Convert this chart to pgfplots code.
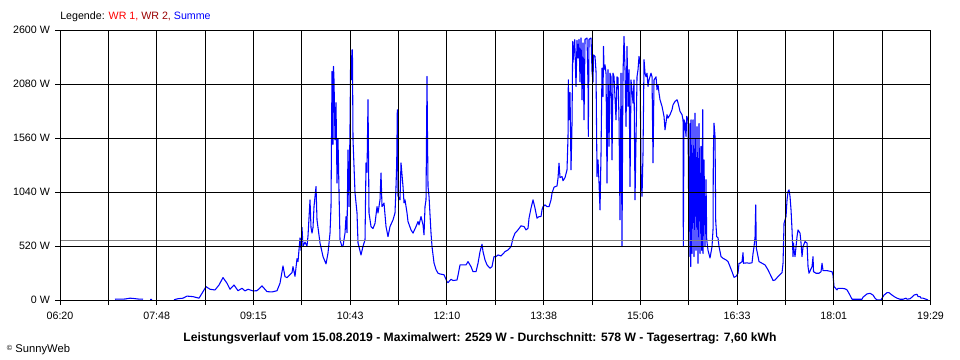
\documentclass[border=0pt]{standalone}
\usepackage{fontspec}
\setmainfont{Liberation Sans}
\usepackage{pgfplots}
\usepackage{pgfplotstable}
\pgfplotsset{compat=1.18}
\definecolor{wrone}{RGB}{255,0,0}
\definecolor{wrtwo}{RGB}{153,0,0}
\definecolor{summe}{RGB}{0,0,255}
\definecolor{avg}{RGB}{128,128,128}
% px = horizontal position (06:20 at 60, 19:29 at 930.5), W = power
\pgfplotstableread{
px W
115 10
125 12
130 20
133 18
138 12
143 10
144 nan
150 8
152 8
153 nan
174 5
178 15
183 20
187 40
193 35
199 20
202 67
206 131
210 106
215 99
219 147
223 218
227 164
230 106
234 147
238 92
242 115
245 90
248 106
253 90
257 92
262 138
267 83
272 80
277 92
280 164
283 330
285 227
287 218
292 266
293 324
295 230
297 400
298 372
300 600
301 480
302 700
303 520
305 560
307 520
308 620
310 966
311 700
312 646
313 700
314 901
316 1094
317 773
320 552
323 420
326 350
328 455
330 646
331 901
332 2201
333 1500
333.5 2250
334 2121
335 1544
336 1900
337 1128
338 1550
339 1046
340 581
342 516
343 520
345 646
346 805
347 650
348 1447
349 900
350 1672
350.7 2410
351.7 2121
352.4 2410
353 1544
355 1033
357 840
358 552
361 436
363 520
365 580
366 1322
367 1230
368 1929
369 840
371 709
373 690
375 740
377 901
378 840
380 966
381 1224
382 901
384 935
386 709
388 612
390 709
393 773
395 840
396 1094
396.7 1322
397.3 1833
398 1003
400 966
401 1322
403 1094
404 937
405 966
407 840
408 757
411 677
413 646
416 709
418 757
419 725
421 805
423 725
424 629
425 901
426 966
427 2153
427.4 1672
428 1094
429 1000
431 646
432 516
434 359
436 295
438 260
440 253
444 245
447 179
448 170
451 202
453 190
457 195
458 240
460 340
463 340
466 340
468 372
471 324
473 275
476 275
478 356
480 468
482 539
483 468
485 388
487 340
490 308
492 324
494 420
496 420
498 436
501 426
503 446
505 468
508 484
511 516
513 597
515 645
518 677
521 716
524 709
526 677
528 693
529 790
531 886
533 966
535 886
537 790
539 805
541 805
542 870
543 900
545 918
547 900
549 900
551 966
552 1030
554 1088
557 1100
558 1175
559 1319
560 1180
562 1190
563 1150
565 1180
567 1255
568 1576
568.3 2121
569 1736
570 2000
571 1255
572 1700
572.7 2490
573 2290
574.7 2507
576 2057
577 2500
578 2330
579 2510
580 2100
581 2523
582 1929
583 2475
584 1736
585 2510
587 2523
588 2057
588.3 1576
589 2510
591 2523
592 2200
593 2100
593.5 2360
595 2346
596 2200
597 1190
598 1350
599 1128
600 869
601 1415
602 2234
603 1960
603.5 2442
604 2218
605 2265
606 2185
607 1128
608 2218
609 1480
610 2185
611 2150
612 1350
613 2185
614 2150
616 1736
617 2150
618 2140
619 1736
620 773
621 2185
622 516
622.7 1800
623 2185
624 2538
625 2218
626 1672
627 2442
628 1865
629 2218
630 1094
631 2120
633 1897
634 2120
635 966
637 2150
638 2218
639 2346
640 2282
641 1225
642 1000
643 1415
644 2314
645 2185
646 2150
647 2185
648 2057
649 2120
651 2185
652 2150
653 1322
654 2120
656 2150
657 2025
658 2075
659 1993
660 1929
662 1865
663 1817
664 1768
665 1640
667 1785
668 1753
670 1785
672 1833
673 1880
675 1913
677 1929
678 1900
680 1817
682 1785
683 1736
683.3 516
684 1736
685 1700
686 1576
686.7 1770
688 1736
689 420
690 1700
690.7 324
691 1736
692 450
693 1736
694 420
695 1800
696 480
697 1670
698 356
699 1700
700 450
701 1480
701.7 480
702.7 1833
703 450
704 1350
705 516
706 1160
706.7 581
708 480
710 407
712 516
713 680
713.3 1380
714 1704
715 1576
715.7 760
716.7 612
718 600
719 516
721 420
723 404
726 388
728 372
730 324
732 275
734 221
736 230
738 260
739 356
740 356
742 372
743 458
743.5 356
747 360
749 356
752 360
753 450
754 515
755 610
755.7 918
756.3 500
757 470
759 372
762 356
765 340
768 292
772 212
773 190
775 195
778 228
782 266
783 356
784 741
786 805
787 966
788 1046
789 1062
790 998
791 870
792 677
793 420
793.5 550
794 484
795 420
797 613
798 677
800 645
801 550
802 420
803 516
805 565
807 550
808 324
809 260
812 324
813 420
813.5 275
816 260
819 260
821 275
822 356
823 285
827 285
832 275
833 240
834 131
837 100
838 115
842 115
845 110
847 100
849 66
852 10
856 10
862 10
863 30
867 61
870 67
873 50
875 20
877 3
881 3
882 20
884 50
887 73
889 73
892 50
895 30
897 20
900 10
903 10
906 20
907 10
910 15
912 30
914 50
917 58
918 35
920 35
921 20
923 20
926 10
928 3
}\summe
\begin{document}
\begin{tikzpicture}
\path[use as bounding box] (-45pt,-44.8pt) rectangle (675pt,225.2pt);
\begin{axis}[
  at={(0pt,0pt)}, anchor=south west,
  scale only axis, width=652.9pt, height=202.7pt,
  xmin=380, xmax=1169, ymin=0, ymax=2600,
  xtick={380,423.83,467.67,511.5,555.33,599.17,643,686.83,730.67,774.5,818.33,862.17,906,949.83,993.67,1037.5,1081.33,1125.17,1169},
  xticklabels={06:20,,07:48,,09:15,,10:43,,12:10,,13:38,,15:06,,16:33,,18:01,,19:29},
  ytick={0,520,1040,1560,2080,2600},
  yticklabels={0 W,520 W,1040 W,1560 W,2080 W,2600 W},
  tick align=outside, xtick pos=bottom, ytick pos=left,
  major tick length=3.6pt,
  tick style={black, line width=0.75pt},
  grid=major, grid style={black, line width=0.75pt},
  axis line style={black, line width=0.75pt},
  axis x line*=bottom, axis y line*=left,
  axis on top,
  unbounded coords=jump,
  ticklabel style={font=\fontsize{8}{9.6}\selectfont, text=black},
  xticklabel style={anchor=north, inner sep=0pt, yshift=-5pt},
  yticklabel style={anchor=east, inner sep=0pt, xshift=-3.8pt},
  clip=false,
]
\addplot[summe, line width=0.8pt, line join=round] table[x expr={380+(\thisrow{px}-60)*0.906376}, y=W] {\summe};
\addplot[avg, line width=1pt] coordinates {(380,578) (1169,578)};
\draw[black, line width=0.75pt] (axis cs:1169,0) -- (axis cs:1169,2600);
\draw[black, line width=0.75pt] (axis cs:380,2600) -- (axis cs:1169,2600);
\end{axis}
\node[anchor=base west, inner sep=0pt, font=\fontsize{8}{9.6}\selectfont] at (0pt,210.8pt)
  {Legende: \textcolor{wrone}{WR 1,} \textcolor{wrtwo}{WR 2,} \textcolor{summe}{Summe}};
\node[anchor=base, inner sep=0pt, font=\fontsize{9.1}{10.9}\selectfont\bfseries] at (315pt,-30.9pt)
  {Leistungsverlauf vom 15.08.2019 - Maximalwert: 2529 W - Durchschnitt: 578 W - Tagesertrag: 7,60 kWh};
\node[anchor=base west, inner sep=0pt, font=\fontsize{8.4}{10}\selectfont] at (-40pt,-38.8pt)
  {\raisebox{0.2ex}{\fontsize{5.5}{6}\selectfont ©} SunnyWeb};
\end{tikzpicture}
\end{document}
